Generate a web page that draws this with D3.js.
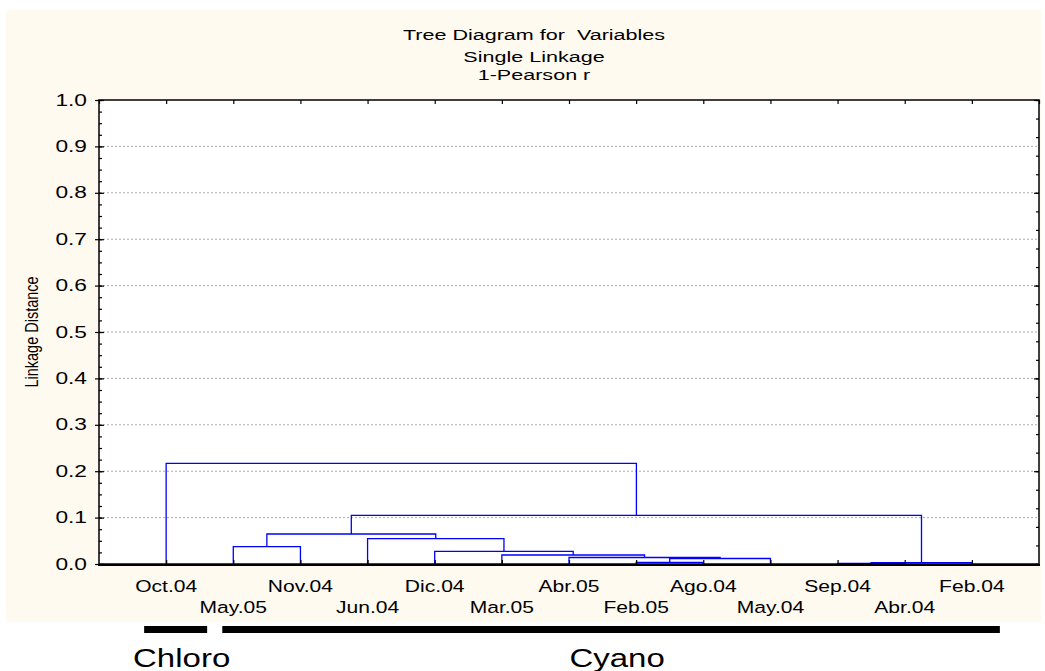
<!DOCTYPE html>
<html>
<head>
<meta charset="utf-8">
<script src="https://d3js.org/d3.v7.min.js"></script>
<style>
  body { margin: 0; background: #fff; }
  svg { display: block; }
  text { white-space: pre; }
</style>
</head>
<body>
<script>
let leaves = ['Oct.04', 'May.05', 'Nov.04', 'Jun.04', 'Dic.04', 'Mar.05', 'Abr.05', 'Feb.05', 'Ago.04', 'May.04', 'Sep.04', 'Abr.04', 'Feb.04']
// linkage rows, new clusters get ids leaves.length, leaves.length + 1, ...
let mergeLeft = [10, 13, 7, 15, 6, 5, 4, 1, 3, 20, 22, 0]
let mergeRight = [11, 12, 8, 9, 16, 17, 18, 2, 19, 21, 14, 23]
let mergeDist = [0.0015, 0.003, 0.0037, 0.0119, 0.014, 0.0194, 0.0274, 0.0373, 0.0545, 0.0647, 0.105, 0.217]
let yTicks = [0.0, 0.1, 0.2, 0.3, 0.4, 0.5, 0.6, 0.7, 0.8, 0.9, 1.0]
let titleLines = ['Tree Diagram for  Variables', 'Single Linkage', '1-Pearson r']
let yTitle = 'Linkage Distance'
let groupNames = ['Chloro', 'Cyano']
let groupFirst = [0, 1]
let groupLast = [0, 12]

let width = 1045
let height = 671
let plotLeft = 99
let plotRight = 1039
let plotTop = 100
let plotBottom = 564
let font = 'Liberation Sans, Arial, sans-serif'

let svg = d3.select('body')
  .append('svg')
  .attr('width', width)
  .attr('height', height)

let scaleX = d3.scaleLinear()
  .domain([0, leaves.length + 1])
  .range([plotLeft, plotRight])

let scaleY = d3.scaleLinear()
  .domain([0, 1])
  .range([plotBottom, plotTop])

// cream panel + white plot area
svg.append('rect')
  .attr('x', 6).attr('y', 10)
  .attr('width', 1035).attr('height', 612)
  .attr('fill', '#fffaf0')

svg.append('rect')
  .attr('x', plotLeft).attr('y', plotTop)
  .attr('width', plotRight - plotLeft).attr('height', plotBottom - plotTop)
  .attr('fill', '#fff')

// titles (text is stretched wide like the original)
svg.selectAll('.title')
  .data(titleLines)
  .enter()
  .append('text')
  .attr('class', 'title')
  .attr('transform', (d, i) => 'translate(534,' + [40, 61.5, 79.5][i] + ') scale(1.4,1)')
  .attr('text-anchor', 'middle')
  .attr('font-family', font)
  .attr('font-size', 15.4)
  .attr('fill', '#000')
  .text(d => d)

// grid
svg.selectAll('.grid')
  .data(yTicks.filter(d => d > 0 && d < 1))
  .enter()
  .append('line')
  .attr('class', 'grid')
  .attr('x1', plotLeft).attr('x2', plotRight)
  .attr('y1', d => scaleY(d)).attr('y2', d => scaleY(d))
  .attr('stroke', '#aaa')
  .attr('stroke-width', 1)
  .attr('stroke-dasharray', '2,2')

// dendrogram
let pos = leaves.map((d, i) => scaleX(i + 1))
let hgt = leaves.map(() => 0)
let links = []
mergeDist.forEach((h, k) => {
  let a = mergeLeft[k]
  let b = mergeRight[k]
  links.push({ x1: pos[a], h1: hgt[a], x2: pos[b], h2: hgt[b], h: h })
  pos.push((pos[a] + pos[b]) / 2)
  hgt.push(h)
})

svg.selectAll('.link')
  .data(links)
  .enter()
  .append('path')
  .attr('class', 'link')
  .attr('d', d => 'M' + d.x1 + ',' + scaleY(d.h1) + 'V' + scaleY(d.h) + 'H' + d.x2 + 'V' + scaleY(d.h2))
  .attr('fill', 'none')
  .attr('stroke', '#0000ff')
  .attr('stroke-width', 1.3)

// axes ticks
function noLabels (axis) {
  return axis.tickFormat('').tickSizeOuter(0)
}

svg.append('g')
  .attr('transform', 'translate(' + plotLeft + ',0)')
  .call(noLabels(d3.axisLeft(scaleY).tickValues(yTicks).tickSizeInner(4)))
svg.append('g')
  .attr('transform', 'translate(' + plotLeft + ',0)')
  .call(noLabels(d3.axisRight(scaleY).tickValues(yTicks).tickSizeInner(5)))
svg.append('g')
  .attr('transform', 'translate(' + plotLeft + ',0)')
  .call(noLabels(d3.axisRight(scaleY).tickValues(d3.range(0, 1.001, 0.025)).tickSizeInner(3)))
svg.append('g')
  .attr('transform', 'translate(' + plotRight + ',0)')
  .call(noLabels(d3.axisLeft(scaleY).tickValues(d3.range(0, 1.001, 0.04)).tickSizeInner(3)))
svg.append('g')
  .attr('transform', 'translate(' + plotRight + ',0)')
  .call(noLabels(d3.axisLeft(scaleY).tickValues(d3.range(0, 1.001, 0.2)).tickSizeInner(5)))
svg.append('g')
  .attr('transform', 'translate(0,' + plotTop + ')')
  .call(noLabels(d3.axisBottom(scaleX).tickValues(d3.range(0, leaves.length + 2)).tickSizeInner(4)))
svg.append('g')
  .attr('transform', 'translate(0,' + plotBottom + ')')
  .call(noLabels(d3.axisTop(scaleX).tickValues(d3.range(1, leaves.length + 1)).tickSizeInner(4)))

svg.selectAll('.domain').remove()
svg.selectAll('.tick line').attr('stroke', '#000').attr('stroke-width', 1.2)

// frame
svg.append('rect')
  .attr('x', plotLeft).attr('y', plotTop)
  .attr('width', plotRight - plotLeft).attr('height', plotBottom - plotTop)
  .attr('fill', 'none')
  .attr('stroke', '#000')
  .attr('stroke-width', 1.5)
svg.append('line')
  .attr('x1', plotLeft - 1).attr('x2', plotRight + 1)
  .attr('y1', plotBottom + 1).attr('y2', plotBottom + 1)
  .attr('stroke', '#000')
  .attr('stroke-width', 2)

// y tick labels
svg.selectAll('.ylab')
  .data(yTicks)
  .enter()
  .append('text')
  .attr('class', 'ylab')
  .attr('transform', d => 'translate(87,' + (scaleY(d) + 5.5) + ') scale(1.42,1)')
  .attr('text-anchor', 'end')
  .attr('font-family', font)
  .attr('font-size', 16)
  .attr('fill', '#000')
  .text(d3.format('.1f'))

svg.append('text')
  .attr('transform', 'translate(38,' + scaleY(0.5) + ') scale(1.3,1) rotate(-90)')
  .attr('text-anchor', 'middle')
  .attr('font-family', font)
  .attr('font-size', 14.5)
  .attr('fill', '#000')
  .text(yTitle)

// leaf labels, two staggered rows
svg.selectAll('.leaf')
  .data(leaves)
  .enter()
  .append('text')
  .attr('class', 'leaf')
  .attr('transform', (d, i) => 'translate(' + scaleX(i + 1) + ',' + (i % 2 ? 612.5 : 591.5) + ') scale(1.24,1)')
  .attr('text-anchor', 'middle')
  .attr('font-family', font)
  .attr('font-size', 17)
  .attr('fill', '#000')
  .text(d => d)

// group bars under the leaves
let groups = groupNames.map((name, i) => ({
  name: name,
  x1: scaleX(groupFirst[i] + 1) - [22, 11][i],
  x2: scaleX(groupLast[i] + 1) + [41, 28][i]
}))

svg.selectAll('.gbar')
  .data(groups)
  .enter()
  .append('rect')
  .attr('class', 'gbar')
  .attr('x', d => d.x1)
  .attr('y', 626)
  .attr('width', d => d.x2 - d.x1)
  .attr('height', 7)
  .attr('fill', '#000')

svg.selectAll('.gname')
  .data(groups)
  .enter()
  .append('text')
  .attr('class', 'gname')
  .attr('transform', d => 'translate(' + ((d.x1 + d.x2) / 2 + 6) + ',667) scale(1.32,1)')
  .attr('text-anchor', 'middle')
  .attr('font-family', font)
  .attr('font-size', 25)
  .attr('fill', '#000')
  .text(d => d.name)
</script>
</body>
</html>
